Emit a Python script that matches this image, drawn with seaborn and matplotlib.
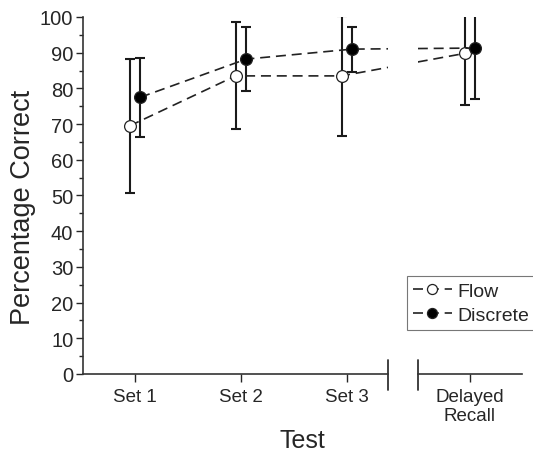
import numpy as np
import pandas as pd
import seaborn as sns
import matplotlib.pyplot as plt

# values (mean +/- SD)
tests = ["Set 1", "Set 2", "Set 3", "Delayed\nRecall"]
flow_mean = [69.5, 83.5, 83.5, 89.8]
flow_sd = [18.8, 15.0, 16.8, 14.4]
discrete_mean = [77.5, 88.2, 91.0, 91.3]
discrete_sd = [11.0, 9.0, 6.3, 14.3]

# x layout: the delayed test sits past an axis break
pos = np.array([0, 1, 2, 3.16])
shift = 0.05

sns.set_style("ticks")
plt.rcParams["font.family"] = ["Liberation Sans", "DejaVu Sans"]
plt.rcParams["lines.dashed_pattern"] = [6, 3.5]

df = pd.DataFrame({
    "x": np.concatenate([pos - shift, pos + shift]),
    "mean": flow_mean + discrete_mean,
    "sd": flow_sd + discrete_sd,
    "group": ["Flow"] * 4 + ["Discrete"] * 4,
})

fig = plt.figure(figsize=(5.33, 4.52), dpi=100)
ax1 = fig.add_axes([0.1557, 0.1704, 0.5722, 0.7898])
ax2 = fig.add_axes([0.7842, 0.1704, 0.1951, 0.7898], sharey=ax1)

face = {"Flow": "white", "Discrete": "black"}
for ax in (ax1, ax2):
    for g in ["Flow", "Discrete"]:
        d = df[df["group"] == g]
        ax.errorbar(d["x"], d["mean"], yerr=d["sd"], fmt="none", ecolor="#1a1a1a",
                    elinewidth=1.5, capsize=3.5, capthick=1.5, zorder=2)
        sns.lineplot(x=d["x"].values, y=d["mean"].values, ax=ax, color="#222222",
                     linestyle="--", linewidth=1.2, marker="o", markersize=8.5,
                     markerfacecolor=face[g], markeredgecolor="#222222",
                     markeredgewidth=0.9, label=g, zorder=3, sort=False)
    ax.set_ylim(0, 100)
    ax.set_xlabel("")
    ax.set_ylabel("")
    if ax.get_legend():
        ax.get_legend().remove()

ax1.set_xlim(-0.49, 2.387)
ax2.set_xlim(2.67, 3.65)
ax1.set_xticks(pos[:3], tests[:3])
ax2.set_xticks(pos[3:], tests[3:])

ax1.set_yticks(np.arange(0, 101, 10))
ax1.set_yticks(np.arange(5, 100, 10), minor=True)
ax1.tick_params(axis="y", which="major", length=5, width=1, labelsize=14.5, pad=2)
ax1.tick_params(axis="y", which="minor", length=3, width=1)
for ax in (ax1, ax2):
    ax.tick_params(axis="x", length=6, width=1, labelsize=13.5, pad=4)
    for s in ["top", "right"]:
        ax.spines[s].set_visible(False)
    ax.spines["bottom"].set_linewidth(1.2)
    ax.spines["bottom"].set_color("#333333")
    ax.patch.set_alpha(0)
ax1.spines["left"].set_linewidth(1.2)
ax1.spines["left"].set_color("#333333")
ax2.spines["left"].set_visible(False)
ax2.tick_params(axis="y", which="both", left=False, labelleft=False)

# break marks at the ends of the split x axis
ax1.plot([1, 1], [-0.045, 0.04], transform=ax1.transAxes, color="#333333",
         lw=1.3, clip_on=False)
ax2.plot([0, 0], [-0.045, 0.04], transform=ax2.transAxes, color="#333333",
         lw=1.3, clip_on=False)

ax1.set_ylabel("Percentage Correct", fontsize=19.5)
ax1.yaxis.set_label_coords(-0.155, 0.47)
fig.text(0.567, 0.024, "Test", ha="center", va="center", fontsize=18)

handles, labels = ax1.get_legend_handles_labels()
leg = fig.legend(handles[:2], labels[:2], loc="upper left",
                 bbox_to_anchor=(0.764, 0.387), fontsize=14, frameon=True,
                 fancybox=False, edgecolor="#777777", framealpha=1,
                 handlelength=2.0, handletextpad=0.3, borderpad=0.3,
                 labelspacing=0.35, borderaxespad=0, markerscale=0.85)
leg.get_frame().set_linewidth(0.8)

fig.savefig("out.png", dpi=100)
